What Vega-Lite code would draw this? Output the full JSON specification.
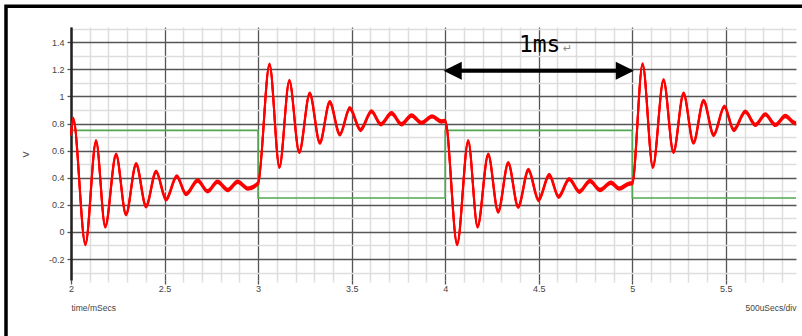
{
  "$schema": "https://vega.github.io/schema/vega-lite/v6.json",
  "width": 725,
  "height": 253,
  "autosize": {"type": "none"},
  "padding": {"left": 71, "top": 27, "right": 6, "bottom": 56},
  "background": "white",
  "config": {"view": {"stroke": null}, "font": "Liberation Sans"},
  "datasets": {
    "signal": [
      {"t": 2.000, "v": 0.72}, {"t": 2.012, "v": 0.834}, {"t": 2.077, "v": -0.09}, {"t": 2.134, "v": 0.67},
      {"t": 2.183, "v": 0.04}, {"t": 2.241, "v": 0.57}, {"t": 2.294, "v": 0.13}, {"t": 2.348, "v": 0.50},
      {"t": 2.401, "v": 0.19}, {"t": 2.455, "v": 0.445}, {"t": 2.508, "v": 0.24}, {"t": 2.565, "v": 0.41},
      {"t": 2.615, "v": 0.28}, {"t": 2.677, "v": 0.38}, {"t": 2.730, "v": 0.30}, {"t": 2.783, "v": 0.37},
      {"t": 2.838, "v": 0.31}, {"t": 2.891, "v": 0.37}, {"t": 2.945, "v": 0.32}, {"t": 3.000, "v": 0.36},
      {"t": 3.061, "v": 1.235}, {"t": 3.114, "v": 0.48}, {"t": 3.167, "v": 1.115}, {"t": 3.220, "v": 0.59},
      {"t": 3.276, "v": 1.02}, {"t": 3.330, "v": 0.66}, {"t": 3.383, "v": 0.957}, {"t": 3.437, "v": 0.72},
      {"t": 3.490, "v": 0.913}, {"t": 3.547, "v": 0.753}, {"t": 3.606, "v": 0.89}, {"t": 3.656, "v": 0.795},
      {"t": 3.713, "v": 0.876}, {"t": 3.766, "v": 0.795}, {"t": 3.820, "v": 0.86}, {"t": 3.873, "v": 0.805},
      {"t": 3.930, "v": 0.853}, {"t": 3.980, "v": 0.815}, {"t": 4.000, "v": 0.82},
      {"t": 4.064, "v": -0.09}, {"t": 4.123, "v": 0.67}, {"t": 4.173, "v": 0.04}, {"t": 4.230, "v": 0.57},
      {"t": 4.283, "v": 0.15}, {"t": 4.337, "v": 0.507}, {"t": 4.390, "v": 0.186}, {"t": 4.445, "v": 0.457},
      {"t": 4.499, "v": 0.236}, {"t": 4.556, "v": 0.42}, {"t": 4.606, "v": 0.26}, {"t": 4.663, "v": 0.39},
      {"t": 4.717, "v": 0.297}, {"t": 4.774, "v": 0.376}, {"t": 4.827, "v": 0.31}, {"t": 4.886, "v": 0.363},
      {"t": 4.930, "v": 0.32}, {"t": 4.980, "v": 0.355}, {"t": 5.000, "v": 0.36},
      {"t": 5.055, "v": 1.237}, {"t": 5.110, "v": 0.48}, {"t": 5.167, "v": 1.12}, {"t": 5.220, "v": 0.59},
      {"t": 5.274, "v": 1.02}, {"t": 5.327, "v": 0.66}, {"t": 5.381, "v": 0.967}, {"t": 5.435, "v": 0.716},
      {"t": 5.492, "v": 0.925}, {"t": 5.542, "v": 0.753}, {"t": 5.604, "v": 0.888}, {"t": 5.658, "v": 0.79},
      {"t": 5.711, "v": 0.868}, {"t": 5.765, "v": 0.79}, {"t": 5.818, "v": 0.856}, {"t": 5.860, "v": 0.81},
      {"t": 5.875, "v": 0.80}
    ],
    "gate": [
      {"t": 2.0, "v": 0.75}, {"t": 3.0, "v": 0.25}, {"t": 4.0, "v": 0.75}, {"t": 5.0, "v": 0.25}, {"t": 5.875, "v": 0.25}
    ],
    "arrow": [{"t1": 4.04, "t2": 4.96, "v": 1.19}],
    "heads": [{"t": 4.04, "v": 1.19, "dir": "left"}, {"t": 4.96, "v": 1.19, "dir": "right"}]
  },
  "resolve": {"axis": {"x": "independent", "y": "independent"}},
  "layer": [
    {
      "data": {"values": [{}]},
      "mark": {"type": "rect", "fill": "transparent", "stroke": "#000000", "strokeWidth": 3.5},
      "encoding": {
        "x": {"datum": 1.6526, "type": "quantitative",
          "scale": {"domain": [2, 5.875], "nice": false, "zero": false},
          "axis": {"orient": "bottom",
            "values": [2.1,2.2,2.3,2.4,2.6,2.7,2.8,2.9,3.1,3.2,3.3,3.4,3.6,3.7,3.8,3.9,4.1,4.2,4.3,4.4,4.6,4.7,4.8,4.9,5.1,5.2,5.3,5.4,5.6,5.7,5.8],
            "grid": true, "gridColor": "#dddddd", "gridWidth": 1.5,
            "labels": false, "ticks": true, "tickSize": 2, "tickColor": "#dddddd", "tickWidth": 1.5,
            "domain": false,
            "title": "500uSecs/div", "titleAnchor": "end", "titleAlign": "right", "titleBaseline": "top",
            "titleY": 23, "titleFont": "Liberation Sans", "titleFontSize": 8.5, "titleFontWeight": "normal", "titleColor": "#444444"}},
        "x2": {"datum": 6.6},
        "y": {"datum": 1.666, "type": "quantitative",
          "scale": {"domain": [-0.355, 1.513], "nice": false, "zero": false},
          "axis": {"orient": "left",
            "values": [-0.3,-0.1,0.1,0.3,0.5,0.7,0.9,1.1,1.3,1.5],
            "grid": true, "gridColor": "#dddddd", "gridWidth": 1.5,
            "labels": false, "ticks": false, "domain": false, "title": null}},
        "y2": {"datum": -1.5}
      }
    },
    {
      "data": {"name": "gate"},
      "mark": {"type": "line", "interpolate": "step-after", "color": "#52a852", "strokeWidth": 1.6},
      "encoding": {
        "x": {"field": "t", "type": "quantitative",
          "scale": {"domain": [2, 5.875], "nice": false, "zero": false},
          "axis": {"orient": "bottom", "values": [2, 2.5, 3, 3.5, 4, 4.5, 5, 5.5],
            "grid": true, "gridColor": "#555555", "gridWidth": 1.3,
            "domain": false, "ticks": true, "tickSize": 4, "tickColor": "#555555", "tickWidth": 1.3,
            "labelFont": "Liberation Sans", "labelFontSize": 9, "labelColor": "#444444", "labelPadding": 0,
            "labelFlush": false, "labelOverlap": false, "labelExpr": "'' + datum.value",
            "title": "time/mSecs", "titleAnchor": "start", "titleAlign": "left", "titleBaseline": "top",
            "titleY": 23, "titleFont": "Liberation Sans", "titleFontSize": 8.5, "titleFontWeight": "normal", "titleColor": "#444444"}},
        "y": {"field": "v", "type": "quantitative",
          "scale": {"domain": [-0.355, 1.513], "nice": false, "zero": false},
          "axis": {"orient": "left", "values": [-0.2, 0, 0.2, 0.4, 0.6, 0.8, 1, 1.2, 1.4],
            "grid": true, "gridColor": "#555555", "gridWidth": 1.3,
            "domain": true, "domainColor": "#222222", "domainWidth": 2.5,
            "ticks": true, "tickSize": 4, "tickColor": "#555555", "tickWidth": 1.3,
            "labelFont": "Liberation Sans", "labelFontSize": 9, "labelColor": "#444444", "labelPadding": 3,
            "labelOverlap": false, "labelExpr": "'' + datum.value",
            "title": "V", "titleX": -46, "titleY": 127, "titleAngle": -90, "titleAlign": "center", "titleBaseline": "middle",
            "titleFont": "Liberation Sans", "titleFontSize": 9, "titleFontWeight": "normal", "titleColor": "#444444"}}
      }
    },
    {
      "data": {"name": "signal"},
      "mark": {"type": "line", "interpolate": "monotone", "color": "#ff0000", "strokeWidth": 2, "yOffset": -1.2},
      "encoding": {
        "x": {"field": "t", "type": "quantitative", "scale": {"domain": [2, 5.875], "nice": false, "zero": false}, "axis": null},
        "y": {"field": "v", "type": "quantitative", "scale": {"domain": [-0.355, 1.513], "nice": false, "zero": false}, "axis": null}
      }
    },
    {
      "data": {"name": "signal"},
      "mark": {"type": "line", "interpolate": "monotone", "color": "#ff0000", "strokeWidth": 2, "yOffset": 1.2},
      "encoding": {
        "x": {"field": "t", "type": "quantitative", "scale": {"domain": [2, 5.875], "nice": false, "zero": false}, "axis": null},
        "y": {"field": "v", "type": "quantitative", "scale": {"domain": [-0.355, 1.513], "nice": false, "zero": false}, "axis": null}
      }
    },
    {
      "data": {"name": "signal"},
      "mark": {"type": "line", "interpolate": "monotone", "color": "#ff0000", "strokeWidth": 2},
      "encoding": {
        "x": {"field": "t", "type": "quantitative", "scale": {"domain": [2, 5.875], "nice": false, "zero": false}, "axis": null},
        "y": {"field": "v", "type": "quantitative", "scale": {"domain": [-0.355, 1.513], "nice": false, "zero": false}, "axis": null}
      }
    },
    {
      "data": {"name": "arrow"},
      "mark": {"type": "rule", "color": "#000000", "strokeWidth": 4},
      "encoding": {
        "x": {"field": "t1", "type": "quantitative", "scale": {"domain": [2, 5.875], "nice": false, "zero": false}, "axis": null},
        "x2": {"field": "t2"},
        "y": {"field": "v", "type": "quantitative", "scale": {"domain": [-0.355, 1.513], "nice": false, "zero": false}, "axis": null}
      }
    },
    {
      "data": {"name": "heads"},
      "mark": {"type": "point", "filled": true, "color": "#000000", "size": 330, "opacity": 1},
      "encoding": {
        "x": {"field": "t", "type": "quantitative", "scale": {"domain": [2, 5.875], "nice": false, "zero": false}, "axis": null},
        "y": {"field": "v", "type": "quantitative", "scale": {"domain": [-0.355, 1.513], "nice": false, "zero": false}, "axis": null},
        "shape": {"field": "dir", "type": "nominal",
          "scale": {"domain": ["left", "right"], "range": ["M-1,0L1,-1L1,1Z", "M1,0L-1,-1L-1,1Z"]}, "legend": null}
      }
    },
    {
      "data": {"values": [{"t": 4.394, "v": 1.331, "label": "1ms"}]},
      "mark": {"type": "text", "align": "left", "baseline": "alphabetic", "font": "DejaVu Sans Mono", "fontSize": 23, "color": "#000000"},
      "encoding": {
        "x": {"field": "t", "type": "quantitative", "scale": {"domain": [2, 5.875], "nice": false, "zero": false}, "axis": null},
        "y": {"field": "v", "type": "quantitative", "scale": {"domain": [-0.355, 1.513], "nice": false, "zero": false}, "axis": null},
        "text": {"field": "label"}
      }
    },
    {
      "data": {"values": [{"t": 4.63, "v": 1.33, "label": "↵"}]},
      "mark": {"type": "text", "align": "left", "baseline": "alphabetic", "font": "DejaVu Sans", "fontSize": 11, "color": "#888888"},
      "encoding": {
        "x": {"field": "t", "type": "quantitative", "scale": {"domain": [2, 5.875], "nice": false, "zero": false}, "axis": null},
        "y": {"field": "v", "type": "quantitative", "scale": {"domain": [-0.355, 1.513], "nice": false, "zero": false}, "axis": null},
        "text": {"field": "label"}
      }
    }
  ]
}
